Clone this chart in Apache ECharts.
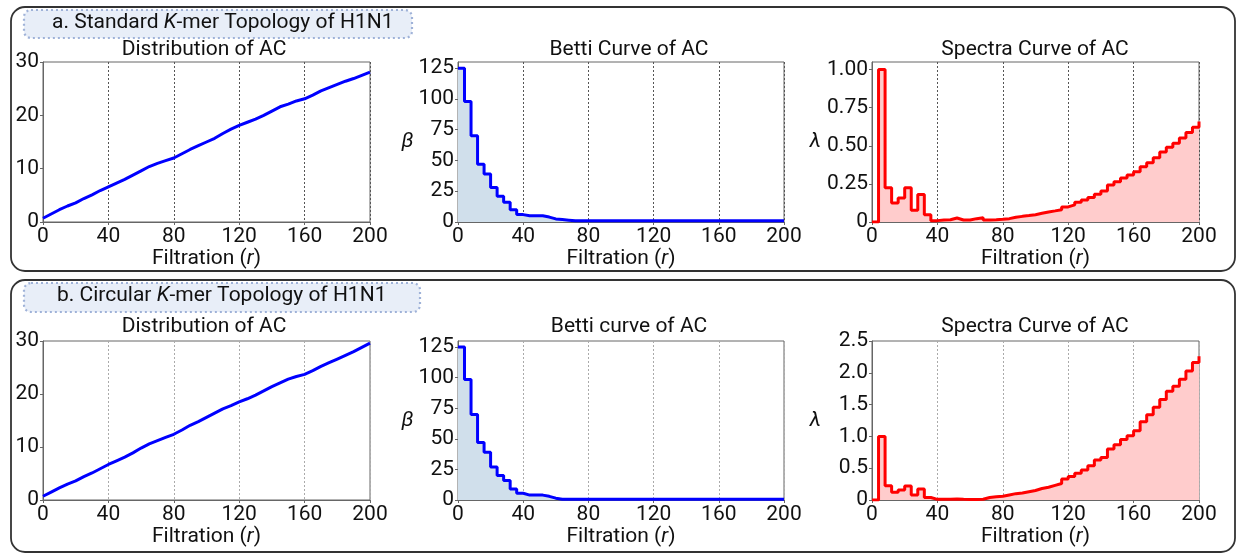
<!DOCTYPE html>
<html>
<head>
<meta charset="utf-8">
<script src="https://cdn.jsdelivr.net/npm/echarts@6/dist/echarts.min.js"></script>
<style>
  html, body { margin: 0; padding: 0; background: #fff; }
  #chart { width: 1238px; height: 554px; }
</style>
</head>
<body>
<div id="chart"></div>
<script>
// filtration radius for the AC distribution curves
const distR = [0, 5, 10, 15, 20, 25, 30, 35, 40, 45, 50, 55, 60, 65, 70, 75, 80, 85, 90, 95, 100,
  105, 110, 115, 120, 125, 130, 135, 140, 145, 150, 155, 160, 165, 170, 175, 180, 185, 190, 195, 200]
const distStandard = [0.7, 1.5, 2.3, 3.0, 3.6, 4.4, 5.1, 5.9, 6.6, 7.3, 8.0, 8.8, 9.6, 10.4, 11.0, 11.5, 12.0, 12.8, 13.6, 14.3, 15.0,
  15.7, 16.6, 17.4, 18.1, 18.7, 19.3, 20.0, 20.8, 21.6, 22.1, 22.7, 23.1, 23.8, 24.6, 25.2, 25.8, 26.4, 26.9, 27.5, 28.1]
const distCircular = [0.7, 1.5, 2.3, 3.0, 3.6, 4.4, 5.1, 5.9, 6.7, 7.4, 8.1, 8.9, 9.8, 10.6, 11.2, 11.8, 12.4, 13.2, 14.1, 14.8, 15.6,
  16.4, 17.2, 17.8, 18.5, 19.1, 19.8, 20.6, 21.4, 22.1, 22.8, 23.3, 23.7, 24.4, 25.2, 25.9, 26.6, 27.3, 28.0, 28.8, 29.6]

// step curves, one value per bin of width 4 starting at r = 0
const binWidth = 4
const bettiStandard = [125, 98, 70, 47, 39, 28, 21, 16, 10, 6, 5, 5, 5, 4, 2.5, 2, 1.5,
  1, 1, 1, 1, 1, 1, 1, 1, 1, 1, 1, 1, 1, 1, 1, 1, 1, 1, 1, 1, 1, 1, 1, 1, 1, 1, 1, 1, 1, 1, 1, 1, 1]
const bettiCircular = [125, 98.5, 70, 47, 39, 27, 20, 16, 9, 5.5, 4, 4, 4, 3, 1.5,
  0.7, 0.7, 0.7, 0.7, 0.7, 0.7, 0.7, 0.7, 0.7, 0.7, 0.7, 0.7, 0.7, 0.7, 0.7, 0.7, 0.7, 0.7, 0.7, 0.7,
  0.7, 0.7, 0.7, 0.7, 0.7, 0.7, 0.7, 0.7, 0.7, 0.7, 0.7, 0.7, 0.7, 0.7, 0.7]
const spectraStandard = [0, 1.0, 0.224, 0.125, 0.158, 0.224, 0.077, 0.18, 0.048, 0.009,
  0.013, 0.015, 0.026, 0.013, 0.013, 0.022, 0.028, 0.013, 0.015, 0.018,
  0.022, 0.031, 0.037, 0.042, 0.048, 0.057, 0.066, 0.073, 0.081, 0.099,
  0.112, 0.13, 0.145, 0.16, 0.182, 0.204, 0.242, 0.264, 0.288, 0.308,
  0.33, 0.363, 0.389, 0.422, 0.459, 0.49, 0.516, 0.552, 0.587, 0.622]
const spectraStandardEnd = 0.66
const spectraCircular = [0, 1.0, 0.226, 0.12, 0.158, 0.22, 0.08, 0.174, 0.04, 0.01,
  0.01, 0.012, 0.015, 0.01, 0.008, 0.008, 0.012, 0.04, 0.05, 0.06,
  0.08, 0.1, 0.11, 0.13, 0.15, 0.18, 0.2, 0.23, 0.26, 0.33,
  0.37, 0.42, 0.47, 0.54, 0.63, 0.67, 0.8, 0.87, 0.95, 1.01,
  1.09, 1.23, 1.34, 1.46, 1.58, 1.71, 1.79, 1.9, 2.03, 2.16]
const spectraCircularEnd = 2.26

const xTicks = [0, 40, 80, 120, 160, 200]
const bettiTicks = [0, 25, 50, 75, 100, 125]
const spectraTicksStandard = [0, 0.25, 0.5, 0.75, 1.0]

const FONT = 'Roboto'
const FS = 21
const blue = '#0000ff'
const red = '#ff0000'

function stepData(vals, endVal) {
  const d = vals.map((v, i) => [i * binWidth, v])
  d.push([200, endVal === undefined ? vals[vals.length - 1] : endVal])
  return d
}

const grids = [
  { left: 43, top: 62, width: 327, height: 160 },
  { left: 458, top: 62, width: 326, height: 160 },
  { left: 872, top: 62, width: 327, height: 160 },
  { left: 43, top: 341, width: 327, height: 159 },
  { left: 458, top: 341, width: 326, height: 159 },
  { left: 872, top: 341, width: 327, height: 159 }
].map(g => Object.assign({ show: true, borderColor: '#666', borderWidth: 1, backgroundColor: 'transparent' }, g))

const labelStyle = { fontFamily: FONT, fontSize: FS, color: '#111', margin: 4 }
const tickStyle = { show: true, length: 3, lineStyle: { color: '#666' } }

function xAxis(i, gridColor) {
  return {
    type: 'value', gridIndex: i, min: 0, max: 200, interval: 40,
    name: 'Filtration ({i|r})',
    nameLocation: 'middle', nameGap: 23,
    nameTextStyle: { fontFamily: FONT, fontSize: FS, color: '#111', rich: { i: { fontFamily: FONT, fontSize: FS, fontStyle: 'italic', color: '#111' } } },
    axisLine: { show: true, lineStyle: { color: '#666', width: 1 } },
    axisTick: tickStyle,
    axisLabel: Object.assign({ customValues: xTicks }, labelStyle),
    splitLine: { show: true, lineStyle: { type: [2, 2], color: gridColor, width: 1 } }
  }
}

function yAxis(i, opts) {
  return Object.assign({
    type: 'value', gridIndex: i, min: 0,
    nameLocation: 'middle', nameRotate: 0,
    nameTextStyle: { fontFamily: FONT, fontSize: FS, fontStyle: 'italic', color: '#111' },
    axisLine: { show: true, lineStyle: { color: '#666', width: 1 } },
    axisTick: tickStyle,
    axisLabel: labelStyle,
    splitLine: { show: false }
  }, opts)
}

const titleStyle = { fontFamily: FONT, fontSize: FS, fontWeight: 'normal', color: '#111' }
const headStyle = {
  fontFamily: FONT, fontSize: FS, fontWeight: 'normal', color: '#111',
  rich: { i: { fontFamily: FONT, fontSize: FS, fontStyle: 'italic', color: '#111' } }
}

const chart = echarts.init(document.getElementById('chart'))
chart.setOption({
  animation: false,
  backgroundColor: '#fff',
  graphic: [
    { type: 'rect', shape: { x: 11, y: 7, width: 1224, height: 264, r: 14 }, style: { fill: 'none', stroke: '#333', lineWidth: 1.8 } },
    { type: 'rect', shape: { x: 11, y: 280, width: 1224, height: 272, r: 14 }, style: { fill: 'none', stroke: '#333', lineWidth: 1.8 } },
    { type: 'rect', shape: { x: 24, y: 10, width: 388, height: 28, r: 7 }, style: { fill: '#e8eef8', stroke: '#9fb2d8', lineWidth: 2.2, lineDash: [2, 3] } },
    { type: 'rect', shape: { x: 24, y: 283, width: 396, height: 29, r: 7 }, style: { fill: '#e8eef8', stroke: '#9fb2d8', lineWidth: 2.2, lineDash: [2, 3] } }
  ],
  title: [
    { text: 'a. Standard {i|K}-mer Topology of H1N1', left: 52, top: 12, padding: 0, textStyle: headStyle },
    { text: 'b. Circular {i|K}-mer Topology of H1N1', left: 57, top: 285, padding: 0, textStyle: headStyle },
    { text: 'Distribution of AC', left: 204, top: 39, padding: 0, textAlign: 'center', textStyle: titleStyle },
    { text: 'Betti Curve of AC', left: 629, top: 39, padding: 0, textAlign: 'center', textStyle: titleStyle },
    { text: 'Spectra Curve of AC', left: 1035, top: 39, padding: 0, textAlign: 'center', textStyle: titleStyle },
    { text: 'Distribution of AC', left: 204, top: 316, padding: 0, textAlign: 'center', textStyle: titleStyle },
    { text: 'Betti curve of AC', left: 629, top: 316, padding: 0, textAlign: 'center', textStyle: titleStyle },
    { text: 'Spectra Curve of AC', left: 1035, top: 316, padding: 0, textAlign: 'center', textStyle: titleStyle }
  ],
  grid: grids,
  xAxis: [
    xAxis(0, '#555'), xAxis(1, '#555'), xAxis(2, '#555'),
    xAxis(3, '#aaa'), xAxis(4, '#aaa'), xAxis(5, '#aaa')
  ],
  yAxis: [
    yAxis(0, { max: 30, interval: 10 }),
    yAxis(1, { max: 130, name: 'β', nameGap: 37,
      axisLabel: Object.assign({ customValues: bettiTicks }, labelStyle),
      axisTick: Object.assign({ customValues: bettiTicks }, tickStyle) }),
    yAxis(2, { max: 1.05, name: 'λ', nameGap: 51,
      axisLabel: Object.assign({ customValues: spectraTicksStandard, formatter: v => v === 0 ? '0' : v.toFixed(2) }, labelStyle),
      axisTick: Object.assign({ customValues: spectraTicksStandard }, tickStyle) }),
    yAxis(3, { max: 30, interval: 10 }),
    yAxis(4, { max: 130, name: 'β', nameGap: 37,
      axisLabel: Object.assign({ customValues: bettiTicks }, labelStyle),
      axisTick: Object.assign({ customValues: bettiTicks }, tickStyle) }),
    yAxis(5, { max: 2.5, interval: 0.5, name: 'λ', nameGap: 51,
      axisLabel: Object.assign({ formatter: v => v === 0 ? '0' : v.toFixed(1) }, labelStyle) })
  ],
  series: [
    {
      type: 'line', xAxisIndex: 0, yAxisIndex: 0, showSymbol: false, smooth: false,
      data: distR.map((r, i) => [r, distStandard[i]]),
      lineStyle: { color: blue, width: 3 }
    },
    {
      type: 'line', xAxisIndex: 1, yAxisIndex: 1, showSymbol: false, step: 'end',
      data: stepData(bettiStandard),
      lineStyle: { color: blue, width: 3 },
      areaStyle: { color: '#d0dfeb', opacity: 1 }
    },
    {
      type: 'line', xAxisIndex: 2, yAxisIndex: 2, showSymbol: false, step: 'end',
      data: stepData(spectraStandard, spectraStandardEnd),
      lineStyle: { color: red, width: 3 },
      areaStyle: { color: '#ffcccc', opacity: 1 }
    },
    {
      type: 'line', xAxisIndex: 3, yAxisIndex: 3, showSymbol: false, smooth: false,
      data: distR.map((r, i) => [r, distCircular[i]]),
      lineStyle: { color: blue, width: 3 }
    },
    {
      type: 'line', xAxisIndex: 4, yAxisIndex: 4, showSymbol: false, step: 'end',
      data: stepData(bettiCircular),
      lineStyle: { color: blue, width: 3 },
      areaStyle: { color: '#d0dfeb', opacity: 1 }
    },
    {
      type: 'line', xAxisIndex: 5, yAxisIndex: 5, showSymbol: false, step: 'end',
      data: stepData(spectraCircular, spectraCircularEnd),
      lineStyle: { color: red, width: 3 },
      areaStyle: { color: '#ffcccc', opacity: 1 }
    }
  ]
})
</script>
</body>
</html>
